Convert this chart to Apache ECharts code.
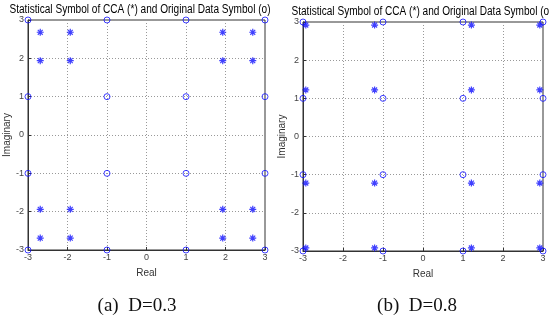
<!DOCTYPE html>
<html>
<head>
<meta charset="utf-8">
<script src="https://cdn.jsdelivr.net/npm/echarts@6/dist/echarts.min.js"></script>
<style>
  html, body { margin: 0; padding: 0; background: #fff; }
  #chart { width: 549px; height: 320px; }
</style>
</head>
<body>
<div id="chart"></div>
<script>
// original 16-QAM data symbols (o)
const origSymbols = [
  [-3, 3], [-1, 3], [1, 3], [3, 3],
  [-3, 1], [-1, 1], [1, 1], [3, 1],
  [-3, -1], [-1, -1], [1, -1], [3, -1],
  [-3, -3], [-1, -3], [1, -3], [3, -3]
];
// CCA statistical symbols (*), D=0.3
const ccaD03 = [
  [-2.69, 2.68], [-1.93, 2.68], [1.93, 2.68], [2.69, 2.68],
  [-2.69, 1.94], [-1.93, 1.94], [1.93, 1.94], [2.69, 1.94],
  [-2.69, -1.94], [-1.93, -1.94], [1.93, -1.94], [2.69, -1.94],
  [-2.69, -2.69], [-1.93, -2.69], [1.93, -2.69], [2.69, -2.69]
];
// CCA statistical symbols (*), D=0.8
const ccaD08 = [
  [-2.93, 2.92], [-1.21, 2.92], [1.21, 2.92], [2.92, 2.92],
  [-2.93, 1.22], [-1.21, 1.22], [1.21, 1.22], [2.92, 1.22],
  [-2.93, -1.22], [-1.21, -1.22], [1.21, -1.22], [2.92, -1.22],
  [-2.93, -2.92], [-1.21, -2.92], [1.21, -2.92], [2.92, -2.92]
];
const titleText = 'Statistical Symbol of CCA (*) and Original Data Symbol (o)';
const captions = ['(a)  D=0.3', '(b)  D=0.8'];

const chart = echarts.init(document.getElementById('chart'));
const sans = '"Liberation Sans", Arial, sans-serif';
const serif = '"Liberation Serif", "DejaVu Serif", serif';
const blue = '#1010ff';
const star = 'path://M0,-5L0,5M-5,0L5,0M-3.5,-3.5L3.5,3.5M-3.5,3.5L3.5,-3.5';

const grids = [
  { left: 28, top: 20, width: 237, height: 230 },
  { left: 303, top: 22, width: 240, height: 229 }
];

const mkAxis = (idx, name, isX) => ({
  gridIndex: idx,
  type: 'value',
  min: -3, max: 3, interval: 1,
  name: name,
  nameLocation: 'middle',
  nameGap: isX ? 18 : 15,
  nameTextStyle: { fontFamily: sans, fontSize: 10, color: '#333' },
  axisLine: { show: true, onZero: false, lineStyle: { color: '#333', width: 1 } },
  axisTick: { show: true, inside: true, length: 3, lineStyle: { color: '#333' } },
  axisLabel: { fontFamily: sans, fontSize: 9, color: '#444', margin: isX ? 3 : 4 },
  splitLine: { show: true, lineStyle: { color: '#999', type: [1, 2], width: 1 } }
});

// condensed title text (MATLAB-like narrow font)
const titleGraphic = (cx, y) => ({
  type: 'text', x: cx, y: y, scaleX: 0.84,
  style: { text: titleText, fontFamily: sans, fontSize: 12, fill: '#000', align: 'center', verticalAlign: 'middle' }
});

const option = {
  animation: false,
  backgroundColor: '#fff',
  title: [
    { text: captions[0], left: 132, top: 292, textAlign: 'center',
      textStyle: { fontFamily: serif, fontSize: 19, fontWeight: 'normal', color: '#111' } },
    { text: captions[1], left: 412, top: 292, textAlign: 'center',
      textStyle: { fontFamily: serif, fontSize: 19, fontWeight: 'normal', color: '#111' } }
  ],
  graphic: [titleGraphic(140, 10), titleGraphic(422, 12)],
  grid: grids.map(g => Object.assign({ show: true, borderColor: '#333', borderWidth: 1, containLabel: false }, g)),
  xAxis: [mkAxis(0, 'Real', true), mkAxis(1, 'Real', true)],
  yAxis: [mkAxis(0, 'Imaginary', false), mkAxis(1, 'Imaginary', false)],
  series: [
    { type: 'scatter', xAxisIndex: 0, yAxisIndex: 0, data: origSymbols, symbol: 'circle', symbolSize: 6,
      itemStyle: { color: 'transparent', borderColor: blue, borderWidth: 1 } },
    { type: 'scatter', xAxisIndex: 0, yAxisIndex: 0, data: ccaD03, symbol: star, symbolSize: 7,
      itemStyle: { color: blue, borderColor: blue, borderWidth: 1.2 } },
    { type: 'scatter', xAxisIndex: 1, yAxisIndex: 1, data: origSymbols, symbol: 'circle', symbolSize: 6,
      itemStyle: { color: 'transparent', borderColor: blue, borderWidth: 1 } },
    { type: 'scatter', xAxisIndex: 1, yAxisIndex: 1, data: ccaD08, symbol: star, symbolSize: 7,
      itemStyle: { color: blue, borderColor: blue, borderWidth: 1.2 } }
  ]
};
chart.setOption(option);
</script>
</body>
</html>
